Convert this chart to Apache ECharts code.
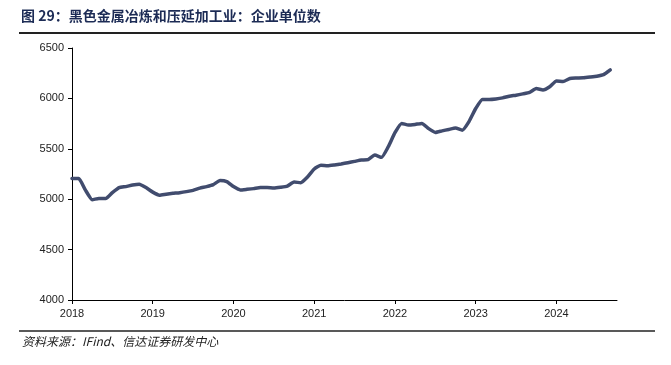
<!DOCTYPE html>
<html>
<head>
<meta charset="utf-8">
<script src="https://cdn.jsdelivr.net/npm/echarts@6/dist/echarts.min.js"></script>
<style>html,body{margin:0;padding:0;background:#fff}#c{width:671px;height:365px}</style>
</head>
<body>
<div id="c"></div>
<script>
var years = [2018, 2019, 2020, 2021, 2022, 2023, 2024];
var v2018 = [5205, 5205, 5090, 4995, 5008, 5006, 5065, 5115, 5125, 5140, 5148, 5115];
var v2019 = [5070, 5040, 5050, 5058, 5065, 5075, 5088, 5110, 5125, 5145, 5185, 5175];
var v2020 = [5125, 5092, 5098, 5105, 5115, 5115, 5110, 5118, 5130, 5170, 5164, 5220];
var v2021 = [5300, 5337, 5332, 5340, 5350, 5362, 5375, 5388, 5392, 5438, 5415, 5520];
var v2022 = [5660, 5752, 5735, 5742, 5752, 5700, 5662, 5678, 5692, 5706, 5685, 5770];
var v2023 = [5900, 5990, 5990, 5995, 6005, 6022, 6032, 6045, 6060, 6097, 6083, 6115];
var v2024 = [6172, 6168, 6198, 6202, 6205, 6212, 6220, 6235, 6282, null];
var yTicks = [4000, 4500, 5000, 5500, 6000, 6500];
var titleText = '图 29：黑色金属冶炼和压延加工业：企业单位数';
var sourceText = '资料来源：IFind、信达证券研发中心';

var perYear = [v2018, v2019, v2020, v2021, v2022, v2023, v2024];
var categories = [];
var values = [];
perYear.forEach(function (arr, i) {
  arr.forEach(function (v, m) {
    categories.push(years[i] + '-' + (m + 1));
    values.push(v);
  });
});

var chart = echarts.init(document.getElementById('c'), null, {renderer: 'canvas'});
var janOnly = function (idx) { return idx % 12 === 0; };
chart.setOption({
  animation: false,
  backgroundColor: '#fff',
  grid: {left: 72, right: 54, top: 48, bottom: 65, containLabel: false},
  xAxis: {
    type: 'category',
    data: categories,
    boundaryGap: false,
    axisLine: {lineStyle: {color: '#000', width: 1}},
    axisTick: {interval: janOnly, length: 4, lineStyle: {color: '#000'}},
    axisLabel: {
      interval: janOnly,
      margin: 8,
      color: '#222',
      fontFamily: 'Liberation Sans, Arial, sans-serif',
      fontSize: 11,
      formatter: function (v) { return v.split('-')[0]; }
    },
    splitLine: {show: false}
  },
  yAxis: {
    type: 'value',
    min: yTicks[0],
    max: yTicks[yTicks.length - 1],
    interval: 500,
    axisLine: {show: true, lineStyle: {color: '#000', width: 1}},
    axisTick: {show: true, length: 4, lineStyle: {color: '#000'}},
    axisLabel: {
      margin: 8,
      color: '#222',
      fontFamily: 'Liberation Sans, Arial, sans-serif',
      fontSize: 11,
      formatter: function (v) { return String(v); }
    },
    splitLine: {show: false}
  },
  series: [{
    type: 'line',
    data: values,
    showSymbol: false,
    smooth: 0.15,
    connectNulls: false,
    lineStyle: {color: '#414c6e', width: 3.5, cap: 'round', join: 'round'},
    itemStyle: {color: '#414c6e'}
  }],
  graphic: [
    {type: 'text', left: 21, top: 9, style: {text: titleText, fill: '#1c2b55', font: 'bold 14px "Noto Sans CJK SC", sans-serif'}},
    {type: 'line', shape: {x1: 19, y1: 33, x2: 655, y2: 33}, style: {stroke: '#222', lineWidth: 2}},
    {type: 'line', shape: {x1: 19, y1: 331, x2: 655, y2: 331}, style: {stroke: '#222', lineWidth: 1.5}},
    {type: 'text', left: 22, top: 335, style: {text: sourceText, fill: '#222', font: 'italic 12px "Noto Sans CJK SC", sans-serif'}}
  ]
});
</script>
</body>
</html>
